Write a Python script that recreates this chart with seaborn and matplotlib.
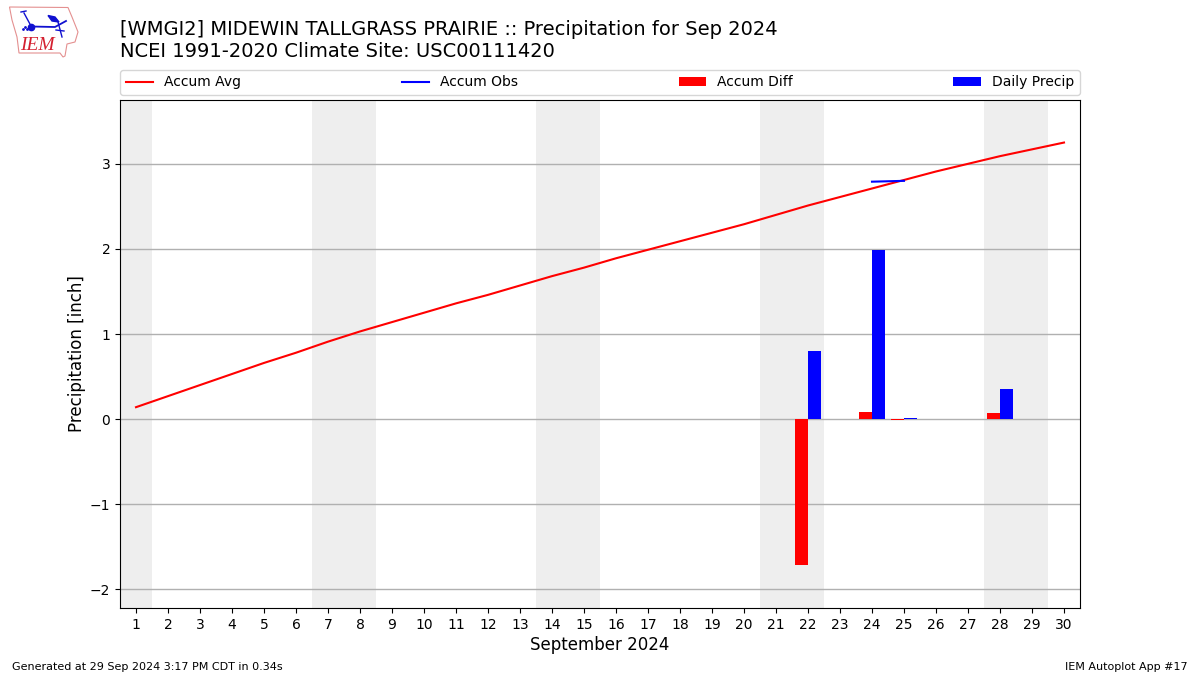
import numpy as np
import pandas as pd
import matplotlib
matplotlib.use("Agg")
import matplotlib.pyplot as plt
import seaborn as sns

# Values
days = list(range(1, 31))
accum_avg = [0.14, 0.27, 0.40, 0.53, 0.66, 0.78, 0.91, 1.03, 1.14, 1.25,
             1.36, 1.46, 1.57, 1.68, 1.78, 1.89, 1.99, 2.09, 2.19, 2.29,
             2.40, 2.51, 2.61, 2.71, 2.81, 2.91, 3.00, 3.09, 3.17, 3.25]
obs_days = [24, 25]
accum_obs = [2.79, 2.80]
precip_days = [22, 24, 25, 28]
accum_diff = [-1.71, 0.085, -0.015, 0.07]
daily_precip = [0.80, 1.99, 0.015, 0.355]
weekend_starts = [0.5, 6.5, 13.5, 20.5, 27.5]
weekend_ends = [1.5, 8.5, 15.5, 22.5, 29.5]

avg_df = pd.DataFrame({"day": days, "accum": accum_avg})
obs_df = pd.DataFrame({"day": obs_days, "accum": accum_obs})
bar_x = np.array(precip_days)

fig = plt.figure(figsize=(12, 6.75), dpi=100)
ax = fig.add_axes([120 / 1200, 1 - 608 / 675, 960 / 1200, 508 / 675])

# Weekend shading
for start, end in zip(weekend_starts, weekend_ends):
    ax.axvspan(start, end, color="#eeeeee", lw=0, zorder=0)

sns.lineplot(data=avg_df, x="day", y="accum", color="red", lw=1.5,
             label="Accum Avg", ax=ax, zorder=3)
sns.lineplot(data=obs_df, x="day", y="accum", color="blue", lw=1.5,
             label="Accum Obs", ax=ax, zorder=3)
ax.bar(bar_x, accum_diff, width=-0.4, align="edge", color="red",
       label="Accum Diff", zorder=2)
ax.bar(bar_x, daily_precip, width=0.4, align="edge", color="blue",
       label="Daily Precip", zorder=2)

ax.set_xlim(0.5, 30.5)
ax.set_ylim(-2.22, 3.75)
ax.set_xticks(days)
ax.set_yticks([-2, -1, 0, 1, 2, 3])
ax.tick_params(labelsize=10)
ax.grid(axis="y", color="#b0b0b0", lw=1)
ax.set_axisbelow(True)
ax.set_xlabel("September 2024", fontsize=12, labelpad=3)
ax.set_ylabel("Precipitation [inch]", fontsize=12, labelpad=3)

ax.legend(loc="lower left", bbox_to_anchor=(0, 1.0098, 1, 0.05), mode="expand",
          ncol=4, borderaxespad=0, fontsize=10)

fig.text(120 / 1200, 1 - 61 / 675, "[WMGI2] MIDEWIN TALLGRASS PRAIRIE :: Precipitation for Sep 2024\n"
         "NCEI 1991-2020 Climate Site: USC00111420", fontsize=14, ha="left", va="bottom")
fig.text(12 / 1200, 1 - 670 / 675, "Generated at 29 Sep 2024 3:17 PM CDT in 0.34s", fontsize=8)
fig.text(1188 / 1200, 1 - 670 / 675, "IEM Autoplot App #17", fontsize=8, ha="right")

# Logo, drawn in figure pixels
logo = fig.add_axes([0, 0, 1, 1], zorder=-1)
logo.set_xlim(0, 1200)
logo.set_ylim(675, 0)
logo.axis("off")
logo.fill([9.5, 68, 72, 78, 75, 67, 65, 63, 60, 19, 17, 12], [7, 7.5, 17, 32, 42, 44, 56, 57, 53, 53, 37, 20],
          facecolor="white", edgecolor="#e49090", lw=0.8)
logo.plot([31, 55, 66], [26.5, 27, 21], color="#1010d0", lw=1.3)
logo.plot([31, 24], [26, 13], color="#1010d0", lw=1)
logo.plot([21, 26], [12, 11], color="#1010d0", lw=1)
logo.plot([58, 62], [22, 37], color="#1010d0", lw=1)
logo.plot([56, 64], [30, 31], color="#1010d0", lw=1)
logo.plot([31], [26.5], "o", color="#1010d0", ms=4.5)
logo.plot([23, 25, 27], [29, 27, 29], ".", color="#1010d0", ms=2)
logo.fill([48, 55, 59, 52], [15.5, 17, 22, 21], color="#1010d0")
logo.text(37.5, 45.5, "IEM", family="Liberation Serif", style="italic", color="#d42030",
          fontsize=14, ha="center", va="center")

fig.savefig("out.png", dpi=100)
